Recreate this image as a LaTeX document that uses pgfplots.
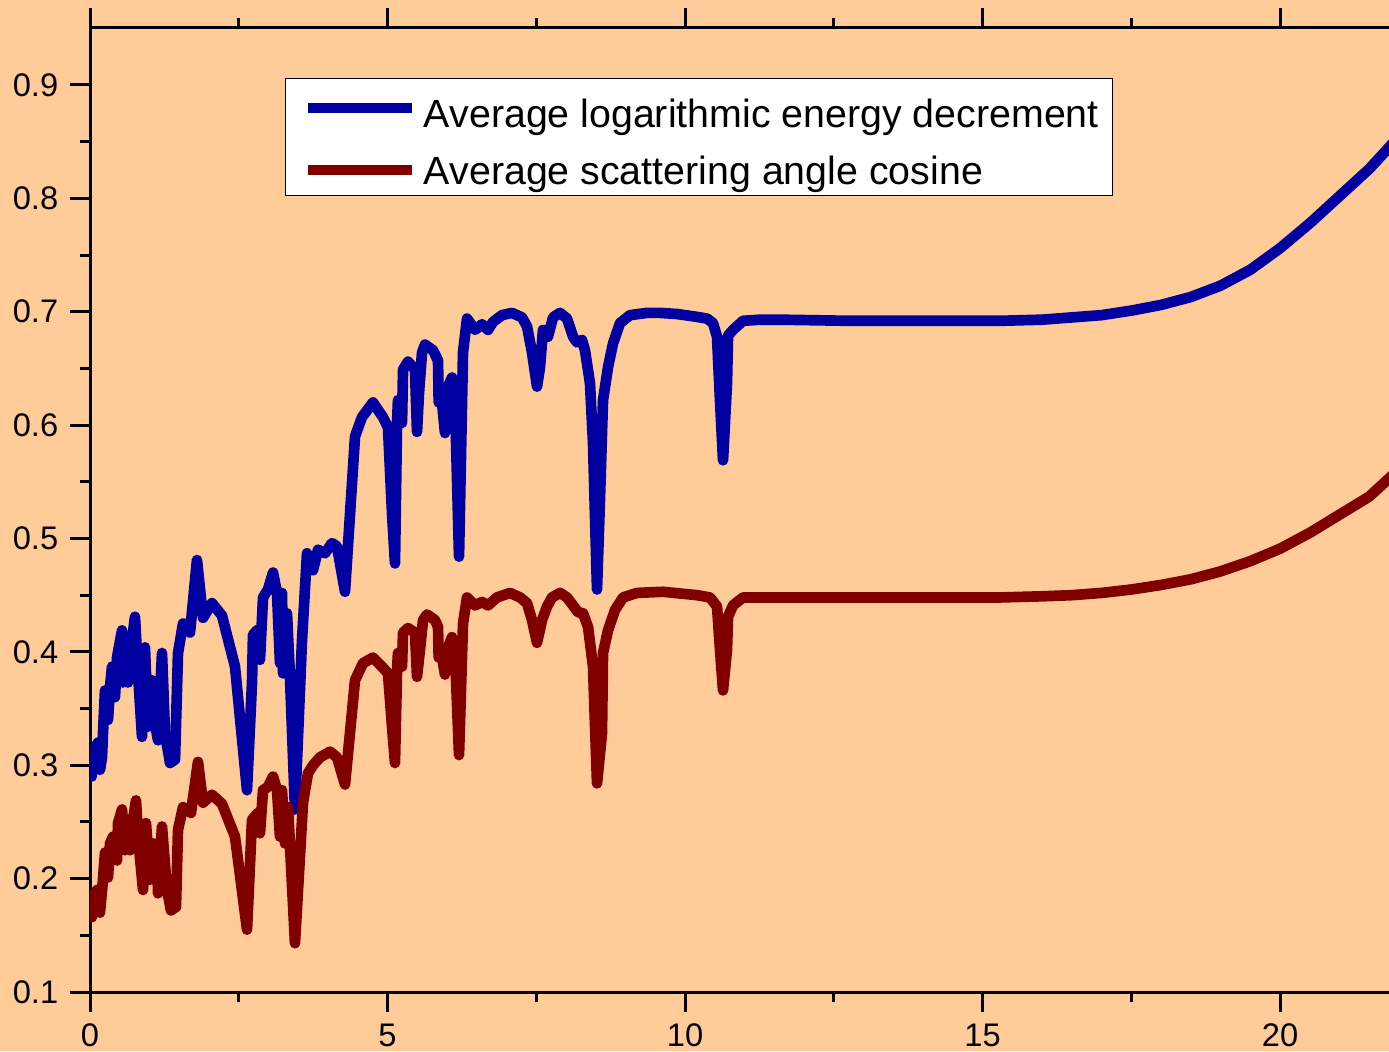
\documentclass[border=0pt]{standalone}
\usepackage{fontspec}
\setmainfont{Liberation Sans}
\usepackage{pgfplots}
\pgfplotsset{compat=1.18}
\definecolor{bg}{HTML}{FFCC99}
\definecolor{bluec}{HTML}{0000A0}
\definecolor{redc}{HTML}{800000}

\begin{document}
\begin{tikzpicture}
\fill[bg, use as bounding box] (-27pt,-17.7pt) rectangle (389.7pt,297.6pt);
\begin{axis}[
    at={(0pt,0pt)}, anchor=south west,
    scale only axis, width=389.7pt, height=289.2pt,
    xmin=0, xmax=21.832, ymin=0.1, ymax=0.9503,
    axis x line=box, axis y line=left,
    axis line style={-, line width=0.9pt},
    every outer y axis line/.append style={-},
    xtick={0,5,10,15,20}, minor xtick={2.5,7.5,12.5,17.5},
    ytick={0.1,0.2,0.3,0.4,0.5,0.6,0.7,0.8,0.9},
    yticklabels={0.1,0.2,0.3,0.4,0.5,0.6,0.7,0.8,0.9},
    minor ytick={0.15,0.25,0.35,0.45,0.55,0.65,0.75,0.85},
    tick align=outside,
    major tick length=6pt, minor tick length=3pt,
    tick style={black, line width=0.9pt},
    /pgf/number format/assume math mode=true,
    tick label style={font=\fontsize{9.8}{11.5}\selectfont},
    legend style={at={(0.1501,0.9481)}, anchor=north west, draw=black,
        line width=0.4pt, fill=white, font=\fontsize{11.8}{14}\selectfont,
        inner xsep=2pt, inner ysep=1.2pt, row sep=4.7pt,
        nodes={text depth=0pt}},
    legend cell align=left,
    legend image code/.code={\path (0pt,0pt);
        \draw[#1, line width=3pt, line cap=butt] (3.2pt,0pt) -- (34.4pt,0pt);},
]
\addplot[bluec, line width=3.2pt, line join=round, line cap=round] coordinates {
(0.029,0.290) (0.050,0.311) (0.134,0.320) (0.168,0.296) (0.202,0.307) (0.218,0.328)
(0.252,0.366) (0.303,0.340) (0.336,0.369) (0.370,0.387) (0.420,0.360) (0.454,0.395)
(0.538,0.419) (0.555,0.373) (0.622,0.410) (0.639,0.373) (0.706,0.410) (0.756,0.431)
(0.807,0.381) (0.874,0.325) (0.924,0.404) (0.975,0.334) (1.042,0.375) (1.092,0.337)
(1.143,0.322) (1.210,0.399) (1.261,0.328) (1.345,0.302) (1.429,0.305) (1.479,0.399)
(1.563,0.425) (1.681,0.417) (1.798,0.481) (1.899,0.430) (2.050,0.443) (2.218,0.432)
(2.437,0.387) (2.639,0.278) (2.723,0.373) (2.739,0.415) (2.807,0.419) (2.857,0.393)
(2.908,0.448) (2.992,0.455) (3.076,0.470) (3.143,0.452) (3.193,0.390) (3.227,0.452)
(3.244,0.381) (3.311,0.434) (3.361,0.378) (3.445,0.261) (3.563,0.410) (3.647,0.487)
(3.748,0.472) (3.832,0.490) (3.950,0.487) (4.067,0.496) (4.151,0.493) (4.286,0.453)
(4.454,0.590) (4.571,0.607) (4.756,0.620) (4.924,0.607) (5.008,0.598) (5.076,0.522)
(5.126,0.478) (5.160,0.602) (5.176,0.622) (5.244,0.602) (5.261,0.649) (5.345,0.656)
(5.462,0.649) (5.496,0.594) (5.529,0.628) (5.580,0.664) (5.630,0.671) (5.765,0.666)
(5.849,0.657) (5.860,0.620) (5.916,0.620) (5.966,0.593) (6.017,0.634) (6.084,0.642)
(6.134,0.622) (6.202,0.484) (6.269,0.664) (6.336,0.694) (6.471,0.684) (6.588,0.689)
(6.689,0.684) (6.773,0.691) (6.924,0.697) (7.092,0.699) (7.261,0.695) (7.345,0.687)
(7.429,0.664) (7.513,0.634) (7.563,0.651) (7.613,0.684) (7.697,0.678) (7.782,0.695)
(7.899,0.699) (8.017,0.694) (8.118,0.678) (8.185,0.673) (8.269,0.675) (8.319,0.666)
(8.403,0.637) (8.454,0.584) (8.521,0.455) (8.571,0.534) (8.622,0.622) (8.706,0.651)
(8.790,0.672) (8.908,0.690) (9.076,0.697) (9.361,0.699) (9.580,0.699) (9.866,0.698)
(10.134,0.696) (10.370,0.694) (10.471,0.690) (10.538,0.678) (10.588,0.622) (10.639,0.569)
(10.706,0.637) (10.723,0.679) (10.807,0.684) (10.975,0.692) (11.261,0.693) (11.597,0.693)
(12.773,0.692) (15.294,0.692) (16.000,0.693) (16.500,0.695) (17.000,0.697) (17.500,0.701)
(18.000,0.706) (18.500,0.713) (19.000,0.723) (19.500,0.737) (20.000,0.756) (20.500,0.778)
(21.000,0.802) (21.500,0.826) (21.832,0.845) (22.000,0.855)
};
\addlegendentry{\rule{0pt}{11.3pt}Average logarithmic energy decrement}
\addplot[redc, line width=3.2pt, line join=round, line cap=round] coordinates {
(0.034,0.166) (0.050,0.184) (0.118,0.190) (0.168,0.170) (0.218,0.199) (0.252,0.223)
(0.303,0.201) (0.336,0.231) (0.387,0.237) (0.454,0.216) (0.471,0.249) (0.538,0.261)
(0.588,0.225) (0.639,0.252) (0.672,0.225) (0.706,0.246) (0.773,0.269) (0.807,0.237)
(0.891,0.190) (0.941,0.249) (1.008,0.199) (1.059,0.231) (1.126,0.228) (1.143,0.187)
(1.210,0.246) (1.294,0.190) (1.361,0.172) (1.445,0.175) (1.479,0.243) (1.563,0.263)
(1.697,0.258) (1.815,0.303) (1.899,0.267) (2.050,0.274) (2.218,0.266) (2.437,0.237)
(2.639,0.155) (2.723,0.252) (2.824,0.258) (2.857,0.240) (2.908,0.278) (2.992,0.281)
(3.076,0.290) (3.143,0.278) (3.193,0.237) (3.227,0.278) (3.277,0.231) (3.328,0.263)
(3.445,0.143) (3.580,0.267) (3.664,0.293) (3.748,0.300) (3.866,0.307) (4.034,0.312)
(4.151,0.307) (4.286,0.283) (4.454,0.375) (4.588,0.390) (4.756,0.395) (4.924,0.386)
(5.008,0.381) (5.076,0.334) (5.126,0.302) (5.160,0.384) (5.176,0.399) (5.244,0.387)
(5.261,0.417) (5.345,0.421) (5.462,0.417) (5.496,0.378) (5.546,0.402) (5.597,0.428)
(5.664,0.433) (5.798,0.428) (5.849,0.422) (5.860,0.395) (5.916,0.395) (5.966,0.380)
(6.017,0.404) (6.084,0.413) (6.134,0.399) (6.202,0.309) (6.269,0.425) (6.336,0.448)
(6.471,0.441) (6.588,0.444) (6.689,0.441) (6.840,0.448) (7.059,0.452) (7.227,0.448)
(7.345,0.443) (7.429,0.428) (7.513,0.408) (7.597,0.428) (7.681,0.440) (7.765,0.448)
(7.899,0.452) (8.017,0.448) (8.118,0.441) (8.202,0.435) (8.286,0.434) (8.370,0.422)
(8.454,0.387) (8.521,0.284) (8.605,0.328) (8.622,0.399) (8.706,0.419) (8.824,0.437)
(8.958,0.448) (9.193,0.452) (9.630,0.453) (10.202,0.450) (10.420,0.448) (10.538,0.440)
(10.588,0.402) (10.639,0.366) (10.706,0.402) (10.723,0.431) (10.807,0.441) (10.975,0.448)
(11.311,0.448) (11.597,0.448) (15.294,0.448) (16.000,0.449) (16.500,0.450) (17.000,0.452)
(17.500,0.455) (18.000,0.459) (18.500,0.464) (19.000,0.471) (19.500,0.480) (20.000,0.491)
(20.500,0.505) (21.000,0.521) (21.500,0.537) (21.832,0.553) (22.000,0.561)
};
\addlegendentry{Average scattering angle cosine}
\end{axis}
\end{tikzpicture}
\end{document}
